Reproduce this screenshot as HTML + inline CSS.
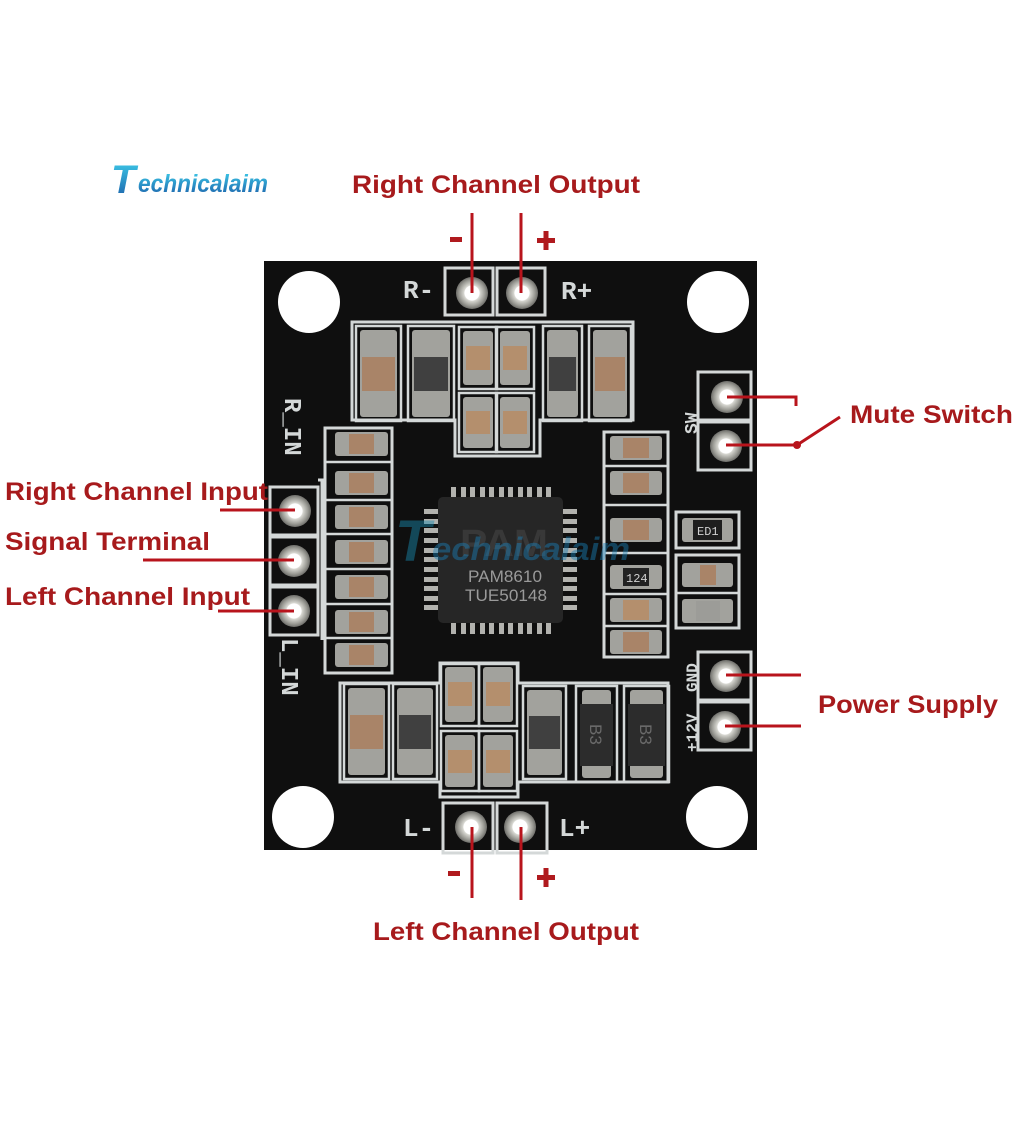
<!DOCTYPE html>
<html><head><meta charset="utf-8"><style>
html,body{margin:0;padding:0;background:#fff;}
svg{display:block;}
</style></head><body>
<svg width="1024" height="1126" viewBox="0 0 1024 1126" xmlns="http://www.w3.org/2000/svg">
<defs>
<linearGradient id="lg" x1="0" y1="0" x2="0" y2="1">
<stop offset="0" stop-color="#3fd0ec"/><stop offset="1" stop-color="#1a5aa6"/>
</linearGradient>
<radialGradient id="pad" cx="0.5" cy="0.5" r="0.5">
<stop offset="0.45" stop-color="#ffffff"/><stop offset="0.5" stop-color="#d8d8d2"/><stop offset="0.8" stop-color="#9c9c96"/><stop offset="1" stop-color="#6e6e6a"/>
</radialGradient>
</defs>
<rect width="1024" height="1126" fill="#ffffff"/>

<!-- Logo -->
<text x="111" y="193" font-family="Liberation Sans, sans-serif" font-weight="bold" font-style="italic" font-size="40" fill="url(#lg)">T</text>
<text x="138" y="192" font-family="Liberation Sans, sans-serif" font-weight="bold" font-style="italic" font-size="25" fill="url(#lg)" textLength="130" lengthAdjust="spacingAndGlyphs">echnicalaim</text>

<!-- Board -->
<rect x="264" y="261" width="493" height="589" fill="#0f0f0f"/>
<circle cx="309" cy="302" r="31" fill="#fff"/>
<circle cx="718" cy="302" r="31" fill="#fff"/>
<circle cx="303" cy="817" r="31" fill="#fff"/>
<circle cx="717" cy="817" r="31" fill="#fff"/>

<g fill="none" stroke="#d4d8d8" stroke-width="3">
<rect x="445" y="268" width="48" height="47"/>
<rect x="497" y="268" width="48" height="47"/>
<rect x="443" y="803" width="50" height="50"/>
<rect x="497" y="803" width="50" height="50"/>
<rect x="270" y="487" width="48" height="48"/>
<rect x="270" y="537" width="48" height="48"/>
<rect x="270" y="587" width="48" height="48"/>
<rect x="698" y="372" width="53" height="48"/>
<rect x="698" y="422" width="53" height="48"/>
<rect x="698" y="652" width="53" height="48"/>
<rect x="698" y="702" width="53" height="48"/>
<path d="M352 322 H633 V420 H540 V456 H455 V420 H352 Z"/>
<path d="M340 683 H440 V663 H518 V683 H668 V782 H518 V797 H440 V782 H340 Z"/>
<rect x="325" y="428" width="67" height="245"/>
<rect x="604" y="432" width="64" height="225"/>
<rect x="676" y="512" width="63" height="36"/>
<rect x="676" y="555" width="63" height="73"/>
<path d="M318 480 H322 V640"/>
</g>

<g fill="none" stroke="#d4d8d8" stroke-width="2.5">
<rect x="356" y="326" width="45" height="95"/>
<rect x="408" y="326" width="46" height="95"/>
<rect x="459" y="327" width="38" height="62"/>
<rect x="496" y="327" width="38" height="62"/>
<rect x="459" y="393" width="38" height="59"/>
<rect x="496" y="393" width="38" height="59"/>
<rect x="543" y="326" width="39" height="95"/>
<rect x="589" y="326" width="42" height="95"/>

<rect x="344" y="684" width="45" height="95"/>
<rect x="393" y="684" width="44" height="95"/>
<rect x="441" y="664" width="38" height="62"/>
<rect x="479" y="664" width="38" height="62"/>
<rect x="441" y="731" width="38" height="60"/>
<rect x="479" y="731" width="38" height="60"/>
<rect x="523" y="686" width="43" height="93"/>
<rect x="576" y="686" width="41" height="96"/>
<rect x="624" y="686" width="45" height="96"/>
</g>

<g>
<rect x="360" y="330" width="37" height="87" rx="3" fill="#a2a29d"/><rect x="362" y="357" width="33" height="34" fill="#a98468"/>
<rect x="412" y="330" width="38" height="87" rx="3" fill="#a2a29d"/><rect x="414" y="357" width="34" height="34" fill="#404040"/>
<rect x="547" y="330" width="31" height="87" rx="3" fill="#a2a29d"/><rect x="549" y="357" width="27" height="34" fill="#404040"/>
<rect x="593" y="330" width="34" height="87" rx="3" fill="#a2a29d"/><rect x="595" y="357" width="30" height="34" fill="#a98468"/>

<rect x="463" y="331" width="30" height="54" rx="3" fill="#a2a29d"/><rect x="466" y="346" width="24" height="24" fill="#b48f6d"/>
<rect x="500" y="331" width="30" height="54" rx="3" fill="#a2a29d"/><rect x="503" y="346" width="24" height="24" fill="#b48f6d"/>
<rect x="463" y="397" width="30" height="51" rx="3" fill="#a2a29d"/><rect x="466" y="411" width="24" height="23" fill="#b48f6d"/>
<rect x="500" y="397" width="30" height="51" rx="3" fill="#a2a29d"/><rect x="503" y="411" width="24" height="23" fill="#b48f6d"/>

<rect x="348" y="688" width="37" height="87" rx="3" fill="#a2a29d"/><rect x="350" y="715" width="33" height="34" fill="#a98468"/>
<rect x="397" y="688" width="36" height="87" rx="3" fill="#a2a29d"/><rect x="399" y="715" width="32" height="34" fill="#404040"/>
<rect x="527" y="690" width="35" height="85" rx="3" fill="#a2a29d"/><rect x="529" y="716" width="31" height="33" fill="#404040"/>

<rect x="445" y="667" width="30" height="55" rx="3" fill="#a2a29d"/><rect x="448" y="682" width="24" height="24" fill="#b48f6d"/>
<rect x="483" y="667" width="30" height="55" rx="3" fill="#a2a29d"/><rect x="486" y="682" width="24" height="24" fill="#b48f6d"/>
<rect x="445" y="735" width="30" height="52" rx="3" fill="#a2a29d"/><rect x="448" y="750" width="24" height="23" fill="#b48f6d"/>
<rect x="483" y="735" width="30" height="52" rx="3" fill="#a2a29d"/><rect x="486" y="750" width="24" height="23" fill="#b48f6d"/>

<rect x="582" y="690" width="29" height="88" rx="3" fill="#a2a29d"/><rect x="580" y="704" width="33" height="62" fill="#2c2c2c"/>
<rect x="630" y="690" width="33" height="88" rx="3" fill="#a2a29d"/><rect x="628" y="704" width="37" height="62" fill="#2c2c2c"/>
<text transform="translate(590,724) rotate(90)" font-family="Liberation Sans, sans-serif" font-size="17" fill="#6a6a6a">B3</text>
<text transform="translate(640,724) rotate(90)" font-family="Liberation Sans, sans-serif" font-size="17" fill="#6a6a6a">B3</text>
</g>

<g>
<rect x="335" y="432" width="53" height="24" rx="3" fill="#a2a29d"/><rect x="349" y="434" width="25" height="20" fill="#a98468"/>
<rect x="335" y="471" width="53" height="24" rx="3" fill="#a2a29d"/><rect x="349" y="473" width="25" height="20" fill="#a98468"/>
<rect x="335" y="505" width="53" height="24" rx="3" fill="#a2a29d"/><rect x="349" y="507" width="25" height="20" fill="#a98468"/>
<rect x="335" y="540" width="53" height="24" rx="3" fill="#a2a29d"/><rect x="349" y="542" width="25" height="20" fill="#a98468"/>
<rect x="335" y="575" width="53" height="24" rx="3" fill="#a2a29d"/><rect x="349" y="577" width="25" height="20" fill="#a98468"/>
<rect x="335" y="610" width="53" height="24" rx="3" fill="#a2a29d"/><rect x="349" y="612" width="25" height="20" fill="#a98468"/>
<rect x="335" y="643" width="53" height="24" rx="3" fill="#a2a29d"/><rect x="349" y="645" width="25" height="20" fill="#a98468"/>
</g>
<g fill="none" stroke="#d4d8d8" stroke-width="2.5">
<line x1="325" y1="462" x2="392" y2="462"/><line x1="325" y1="500" x2="392" y2="500"/>
<line x1="325" y1="534" x2="392" y2="534"/><line x1="325" y1="569" x2="392" y2="569"/>
<line x1="325" y1="604" x2="392" y2="604"/><line x1="325" y1="638" x2="392" y2="638"/>
<line x1="604" y1="466" x2="668" y2="466"/><line x1="604" y1="505" x2="668" y2="505"/>
<line x1="604" y1="553" x2="668" y2="553"/><line x1="604" y1="594" x2="668" y2="594"/>
<line x1="604" y1="626" x2="668" y2="626"/><line x1="676" y1="593" x2="739" y2="593"/>
</g>
<g>
<rect x="610" y="436" width="52" height="24" rx="3" fill="#a2a29d"/><rect x="623" y="438" width="26" height="20" fill="#a98468"/>
<rect x="610" y="471" width="52" height="24" rx="3" fill="#a2a29d"/><rect x="623" y="473" width="26" height="20" fill="#a98468"/>
<rect x="610" y="518" width="52" height="24" rx="3" fill="#a2a29d"/><rect x="623" y="520" width="26" height="20" fill="#a98468"/>
<rect x="610" y="565" width="52" height="24" rx="3" fill="#a2a29d"/><rect x="623" y="568" width="26" height="18" fill="#222"/>
<text x="626" y="582" font-family="Liberation Mono, monospace" font-size="12" fill="#d0d0d0">124</text>
<rect x="610" y="598" width="52" height="24" rx="3" fill="#a2a29d"/><rect x="623" y="600" width="26" height="20" fill="#b48f6d"/>
<rect x="610" y="630" width="52" height="24" rx="3" fill="#a2a29d"/><rect x="623" y="632" width="26" height="20" fill="#a98468"/>

<rect x="682" y="518" width="51" height="24" rx="3" fill="#a2a29d"/><rect x="693" y="520" width="29" height="20" fill="#1e1e1e"/>
<text x="697" y="535" font-family="Liberation Mono, monospace" font-size="12" fill="#d0d0d0">ED1</text>
<rect x="682" y="563" width="51" height="24" rx="3" fill="#a2a29d"/><rect x="700" y="565" width="16" height="20" fill="#a98468"/>
<rect x="682" y="599" width="51" height="24" rx="3" fill="#a2a29d"/><rect x="696" y="601" width="24" height="20" fill="#9c9c98"/>
</g>

<g fill="#b2b2ae">
<rect x="451" y="487" width="5" height="11"/><rect x="461" y="487" width="5" height="11"/><rect x="470" y="487" width="5" height="11"/><rect x="480" y="487" width="5" height="11"/><rect x="489" y="487" width="5" height="11"/><rect x="499" y="487" width="5" height="11"/><rect x="508" y="487" width="5" height="11"/><rect x="518" y="487" width="5" height="11"/><rect x="527" y="487" width="5" height="11"/><rect x="537" y="487" width="5" height="11"/><rect x="546" y="487" width="5" height="11"/>
<rect x="451" y="622" width="5" height="12"/><rect x="461" y="622" width="5" height="12"/><rect x="470" y="622" width="5" height="12"/><rect x="480" y="622" width="5" height="12"/><rect x="489" y="622" width="5" height="12"/><rect x="499" y="622" width="5" height="12"/><rect x="508" y="622" width="5" height="12"/><rect x="518" y="622" width="5" height="12"/><rect x="527" y="622" width="5" height="12"/><rect x="537" y="622" width="5" height="12"/><rect x="546" y="622" width="5" height="12"/>
<rect x="424" y="509" width="15" height="5"/><rect x="424" y="519" width="15" height="5"/><rect x="424" y="528" width="15" height="5"/><rect x="424" y="538" width="15" height="5"/><rect x="424" y="548" width="15" height="5"/><rect x="424" y="557" width="15" height="5"/><rect x="424" y="567" width="15" height="5"/><rect x="424" y="577" width="15" height="5"/><rect x="424" y="586" width="15" height="5"/><rect x="424" y="596" width="15" height="5"/><rect x="424" y="605" width="15" height="5"/>
<rect x="562" y="509" width="15" height="5"/><rect x="562" y="519" width="15" height="5"/><rect x="562" y="528" width="15" height="5"/><rect x="562" y="538" width="15" height="5"/><rect x="562" y="548" width="15" height="5"/><rect x="562" y="557" width="15" height="5"/><rect x="562" y="567" width="15" height="5"/><rect x="562" y="577" width="15" height="5"/><rect x="562" y="586" width="15" height="5"/><rect x="562" y="596" width="15" height="5"/><rect x="562" y="605" width="15" height="5"/>
</g>
<rect x="438" y="497" width="125" height="126" rx="5" fill="#262626"/>
<text x="460" y="556" font-family="Liberation Sans, sans-serif" font-weight="bold" font-size="38" fill="#383838" textLength="88" lengthAdjust="spacingAndGlyphs">PAM</text>
<text x="468" y="582" font-family="Liberation Sans, sans-serif" font-size="17" fill="#9a9a9a" textLength="74" lengthAdjust="spacingAndGlyphs">PAM8610</text>
<text x="465" y="601" font-family="Liberation Sans, sans-serif" font-size="17" fill="#9a9a9a" textLength="82" lengthAdjust="spacingAndGlyphs">TUE50148</text>
<g opacity="0.45">
<text x="395" y="561" font-family="Liberation Sans, sans-serif" font-weight="bold" font-style="italic" font-size="58" fill="#1a8db4">T</text>
<text x="432" y="560" font-family="Liberation Sans, sans-serif" font-weight="bold" font-style="italic" font-size="32" fill="#1a80b8" textLength="198" lengthAdjust="spacingAndGlyphs">echnicalaim</text>
</g>

<g font-family="Liberation Mono, monospace" font-weight="bold" fill="#d4d8d8">
<text x="403" y="298" font-size="26">R-</text>
<text x="561" y="299" font-size="26">R+</text>
<text x="403" y="836" font-size="26">L-</text>
<text x="559" y="836" font-size="26">L+</text>
<text transform="translate(285,398) rotate(90)" font-size="24">R_IN</text>
<text transform="translate(282,638) rotate(90)" font-size="24">L_IN</text>
<text transform="translate(697,434) rotate(-90)" font-size="18">SW</text>
<text transform="translate(697,692) rotate(-90)" font-size="16">GND</text>
<text transform="translate(697,752) rotate(-90)" font-size="16">+12V</text>
</g>

<g>
<circle cx="472" cy="293" r="16" fill="url(#pad)"/><circle cx="472" cy="293" r="7" fill="#fff"/>
<circle cx="522" cy="293" r="16" fill="url(#pad)"/><circle cx="522" cy="293" r="7" fill="#fff"/>
<circle cx="471" cy="827" r="16" fill="url(#pad)"/><circle cx="471" cy="827" r="7" fill="#fff"/>
<circle cx="520" cy="827" r="16" fill="url(#pad)"/><circle cx="520" cy="827" r="7" fill="#fff"/>
<circle cx="295" cy="511" r="16" fill="url(#pad)"/><circle cx="295" cy="511" r="7" fill="#fff"/>
<circle cx="294" cy="561" r="16" fill="url(#pad)"/><circle cx="294" cy="561" r="7" fill="#fff"/>
<circle cx="294" cy="611" r="16" fill="url(#pad)"/><circle cx="294" cy="611" r="7" fill="#fff"/>
<circle cx="727" cy="397" r="16" fill="url(#pad)"/><circle cx="727" cy="397" r="7" fill="#fff"/>
<circle cx="726" cy="446" r="16" fill="url(#pad)"/><circle cx="726" cy="446" r="7" fill="#fff"/>
<circle cx="726" cy="676" r="16" fill="url(#pad)"/><circle cx="726" cy="676" r="7" fill="#fff"/>
<circle cx="725" cy="727" r="16" fill="url(#pad)"/><circle cx="725" cy="727" r="7" fill="#fff"/>
</g>

<g stroke="#b8141c" stroke-width="3" fill="none">
<line x1="472" y1="213" x2="472" y2="293"/>
<line x1="521" y1="213" x2="521" y2="293"/>
<line x1="472" y1="827" x2="472" y2="898"/>
<line x1="521" y1="827" x2="521" y2="900"/>
<line x1="220" y1="510" x2="295" y2="510"/>
<line x1="143" y1="560" x2="294" y2="560"/>
<line x1="218" y1="611" x2="294" y2="611"/>
<path d="M727 397 H796 V406"/>
<path d="M726 445 H797 L840 417"/>
<line x1="726" y1="675" x2="801" y2="675"/>
<line x1="725" y1="726" x2="801" y2="726"/>
</g>
<circle cx="797" cy="445" r="4" fill="#b8141c"/>

<!-- plus / minus marks -->
<g fill="#b01a1e">
<rect x="450" y="237" width="12" height="5"/>
<rect x="537" y="238" width="18" height="5"/><rect x="543.5" y="231" width="5" height="19"/>
<rect x="448" y="871" width="12" height="5"/>
<rect x="537" y="875" width="18" height="5"/><rect x="543.5" y="868" width="5" height="19"/>
</g>

<g font-family="Liberation Sans, sans-serif" font-weight="bold" fill="#a71a1c" font-size="25">
<text x="352" y="193" textLength="288" lengthAdjust="spacingAndGlyphs">Right Channel Output</text>
<text x="373" y="940" textLength="266" lengthAdjust="spacingAndGlyphs">Left Channel Output</text>
<text x="850" y="423" textLength="163" lengthAdjust="spacingAndGlyphs">Mute Switch</text>
<text x="818" y="713" textLength="180" lengthAdjust="spacingAndGlyphs">Power Supply</text>
<text x="5" y="500" textLength="263" lengthAdjust="spacingAndGlyphs">Right Channel Input</text>
<text x="5" y="550" textLength="205" lengthAdjust="spacingAndGlyphs">Signal Terminal</text>
<text x="5" y="605" textLength="245" lengthAdjust="spacingAndGlyphs">Left Channel Input</text>
</g>
</svg>
</body></html>
